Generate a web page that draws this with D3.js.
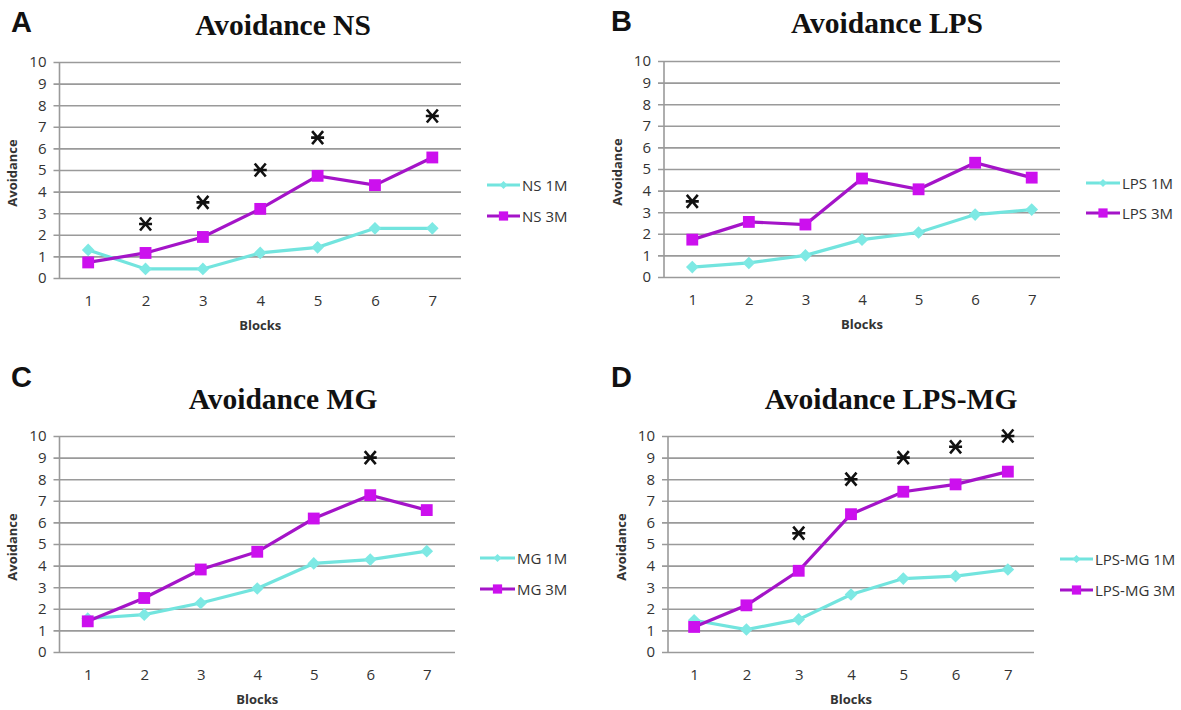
<!DOCTYPE html>
<html>
<head>
<meta charset="utf-8">
<script src="https://cdn.jsdelivr.net/npm/d3@7"></script>
<style>
  html, body { margin: 0; padding: 0; background: #fff; }
  svg { display: block; }
</style>
</head>
<body>
<svg id="chart" width="1181" height="710"></svg>
<script>
// ---------- data ----------
const blocks = [1, 2, 3, 4, 5, 6, 7];
const yTicks = [0, 1, 2, 3, 4, 5, 6, 7, 8, 9, 10];

const nsTitle = "Avoidance NS";
const ns1M = [1.3, 0.42, 0.42, 1.16, 1.42, 2.3, 2.3];
const ns3M = [0.72, 1.16, 1.9, 3.2, 4.73, 4.3, 5.58];
const nsStars = [null, 2.5, 3.5, 5, 6.5, null, 7.5];

const lpsTitle = "Avoidance LPS";
const lps1M = [0.46, 0.65, 1.0, 1.73, 2.06, 2.89, 3.12];
const lps3M = [1.73, 2.55, 2.43, 4.56, 4.06, 5.29, 4.6];
const lpsStars = [3.5, null, null, null, null, null, null];

const mgTitle = "Avoidance MG";
const mg1M = [1.55, 1.73, 2.27, 2.94, 4.1, 4.28, 4.67];
const mg3M = [1.42, 2.5, 3.82, 4.64, 6.18, 7.26, 6.57];
const mgStars = [null, null, null, null, null, 9, null];

const lpsmgTitle = "Avoidance LPS-MG";
const lpsmg1M = [1.47, 1.04, 1.51, 2.66, 3.4, 3.51, 3.82];
const lpsmg3M = [1.16, 2.16, 3.76, 6.38, 7.42, 7.76, 8.35];
const lpsmgStars = [null, null, 5.5, 8, 9, 9.5, 10];

// ---------- layout / style ----------
const CYAN = "#72e4de";
const CYAN_MARK = "#7ee9e4";
const MAG_LINE = "#a414c8";
const MAG_MARK = "#cc10ee";
const GRID = "#9a9a9a";
const TXT = "#333";
const tickFont = "'Open Sans', 'Noto Sans', sans-serif";

const panels = [
  { letter: "A", title: nsTitle, s1: ns1M, s3: ns3M, stars: nsStars, n1: "NS 1M", n3: "NS 3M",
    left: 59.5, right: 461, y0: 278, y10: 62, letterX: 11, letterY: 32, titleX: 283, titleY: 35,
    ylabX: 17, legX: 487, legLen: 33, legY1: 185, legY3: 216 },
  { letter: "B", title: lpsTitle, s1: lps1M, s3: lps3M, stars: lpsStars, n1: "LPS 1M", n3: "LPS 3M",
    left: 664, right: 1060, y0: 277, y10: 61, letterX: 611, letterY: 31, titleX: 887, titleY: 33,
    ylabX: 622, legX: 1086, legLen: 34, legY1: 183, legY3: 213 },
  { letter: "C", title: mgTitle, s1: mg1M, s3: mg3M, stars: mgStars, n1: "MG 1M", n3: "MG 3M",
    left: 59.5, right: 455, y0: 652, y10: 436, letterX: 11, letterY: 387, titleX: 283, titleY: 409,
    ylabX: 17, legX: 480, legLen: 35, legY1: 558, legY3: 589 },
  { letter: "D", title: lpsmgTitle, s1: lpsmg1M, s3: lpsmg3M, stars: lpsmgStars, n1: "LPS-MG 1M", n3: "LPS-MG 3M",
    left: 668, right: 1034, y0: 652, y10: 436, letterX: 611, letterY: 387, titleX: 891, titleY: 409,
    ylabX: 626, legX: 1060, legLen: 33, legY1: 559, legY3: 590 }
];

const svg = d3.select("#chart");

const starPath = "M-5.5,-6.5L5.5,6.5M5.5,-6.5L-5.5,6.5M-6.5,0L6.5,0";

panels.forEach(p => {
  const g = svg.append("g");
  const x = d3.scalePoint().domain(blocks).range([p.left, p.right]).padding(0.5);
  const y = d3.scaleLinear().domain([0, 10]).range([p.y0, p.y10]);

  // gridlines + y tick labels
  const yAxis = d3.axisLeft(y).tickValues(yTicks).tickSize(p.right - p.left + 6).tickPadding(7);
  const ga = g.append("g").attr("transform", `translate(${p.right},0)`).call(yAxis);
  ga.select(".domain").remove();
  ga.selectAll(".tick line").attr("stroke", GRID).attr("stroke-width", 1.6);
  ga.selectAll(".tick text").attr("fill", TXT).style("font-family", tickFont).style("font-size", "15px");

  // vertical axis line
  g.append("line").attr("x1", p.left).attr("x2", p.left).attr("y1", y(10)).attr("y2", y(0))
    .attr("stroke", GRID).attr("stroke-width", 1.6);

  // x tick labels
  const xAxis = d3.axisBottom(x).tickSize(0).tickPadding(17);
  const gx = g.append("g").attr("transform", `translate(0,${p.y0})`).call(xAxis);
  gx.select(".domain").remove();
  gx.selectAll(".tick text").attr("fill", TXT).style("font-family", tickFont).style("font-size", "15px");

  // axis titles
  g.append("text").attr("x", (p.left + p.right) / 2).attr("y", p.y0 + 52)
    .attr("text-anchor", "middle").attr("fill", "#333")
    .style("font-family", tickFont).style("font-weight", "bold").style("font-size", "13px")
    .text("Blocks");
  g.append("text").attr("transform", `translate(${p.ylabX},${(p.y0 + p.y10) / 2 + 3}) rotate(-90)`)
    .attr("text-anchor", "middle").attr("fill", "#333")
    .style("font-family", tickFont).style("font-weight", "bold").style("font-size", "13px")
    .text("Avoidance");

  // panel letter and title
  g.append("text").attr("x", p.letterX).attr("y", p.letterY)
    .style("font-family", "'Liberation Sans', Arial, sans-serif").style("font-weight", "bold")
    .style("font-size", "29px").attr("fill", "#111").text(p.letter);
  g.append("text").attr("x", p.titleX).attr("y", p.titleY).attr("text-anchor", "middle")
    .style("font-family", "'Liberation Serif', 'Times New Roman', serif").style("font-weight", "bold")
    .style("font-size", "29.5px").attr("fill", "#111").text(p.title);

  const line = d3.line().x((d, i) => x(blocks[i])).y(d => y(d));

  // 1M series (cyan diamonds)
  g.append("path").datum(p.s1).attr("d", line).attr("fill", "none")
    .attr("stroke", CYAN).attr("stroke-width", 3.2);
  g.selectAll(".d1").data(p.s1).enter().append("path")
    .attr("transform", (d, i) => `translate(${x(blocks[i])},${y(d)}) rotate(45)`)
    .attr("d", d3.symbol().type(d3.symbolSquare).size(80)).attr("fill", CYAN_MARK);

  // 3M series (magenta squares)
  g.append("path").datum(p.s3).attr("d", line).attr("fill", "none")
    .attr("stroke", MAG_LINE).attr("stroke-width", 3.2);
  g.selectAll(".d3").data(p.s3).enter().append("path")
    .attr("transform", (d, i) => `translate(${x(blocks[i])},${y(d)})`)
    .attr("d", d3.symbol().type(d3.symbolSquare).size(140)).attr("fill", MAG_MARK);

  // significance stars
  g.selectAll(".star").data(p.stars.map((v, i) => ({ v, b: blocks[i] })).filter(d => d.v !== null))
    .enter().append("path")
    .attr("transform", d => `translate(${x(d.b)},${y(d.v)})`)
    .attr("d", starPath).attr("stroke", "#111").attr("stroke-width", 2.6).attr("fill", "none");

  // legend
  const leg = [
    { name: p.n1, yy: p.legY1, col: CYAN, mcol: CYAN_MARK, diamond: true },
    { name: p.n3, yy: p.legY3, col: MAG_LINE, mcol: MAG_MARK, diamond: false }
  ];
  leg.forEach(l => {
    g.append("line").attr("x1", p.legX).attr("x2", p.legX + p.legLen).attr("y1", l.yy).attr("y2", l.yy)
      .attr("stroke", l.col).attr("stroke-width", 3.2);
    g.append("path")
      .attr("transform", `translate(${p.legX + p.legLen / 2},${l.yy})` + (l.diamond ? " rotate(45)" : ""))
      .attr("d", d3.symbol().type(d3.symbolSquare).size(l.diamond ? 32 : 85)).attr("fill", l.mcol);
    g.append("text").attr("x", p.legX + p.legLen + 2).attr("y", l.yy + 5.5)
      .style("font-family", tickFont).style("font-size", "15px").attr("fill", "#333").text(l.name);
  });
});
</script>
</body>
</html>
